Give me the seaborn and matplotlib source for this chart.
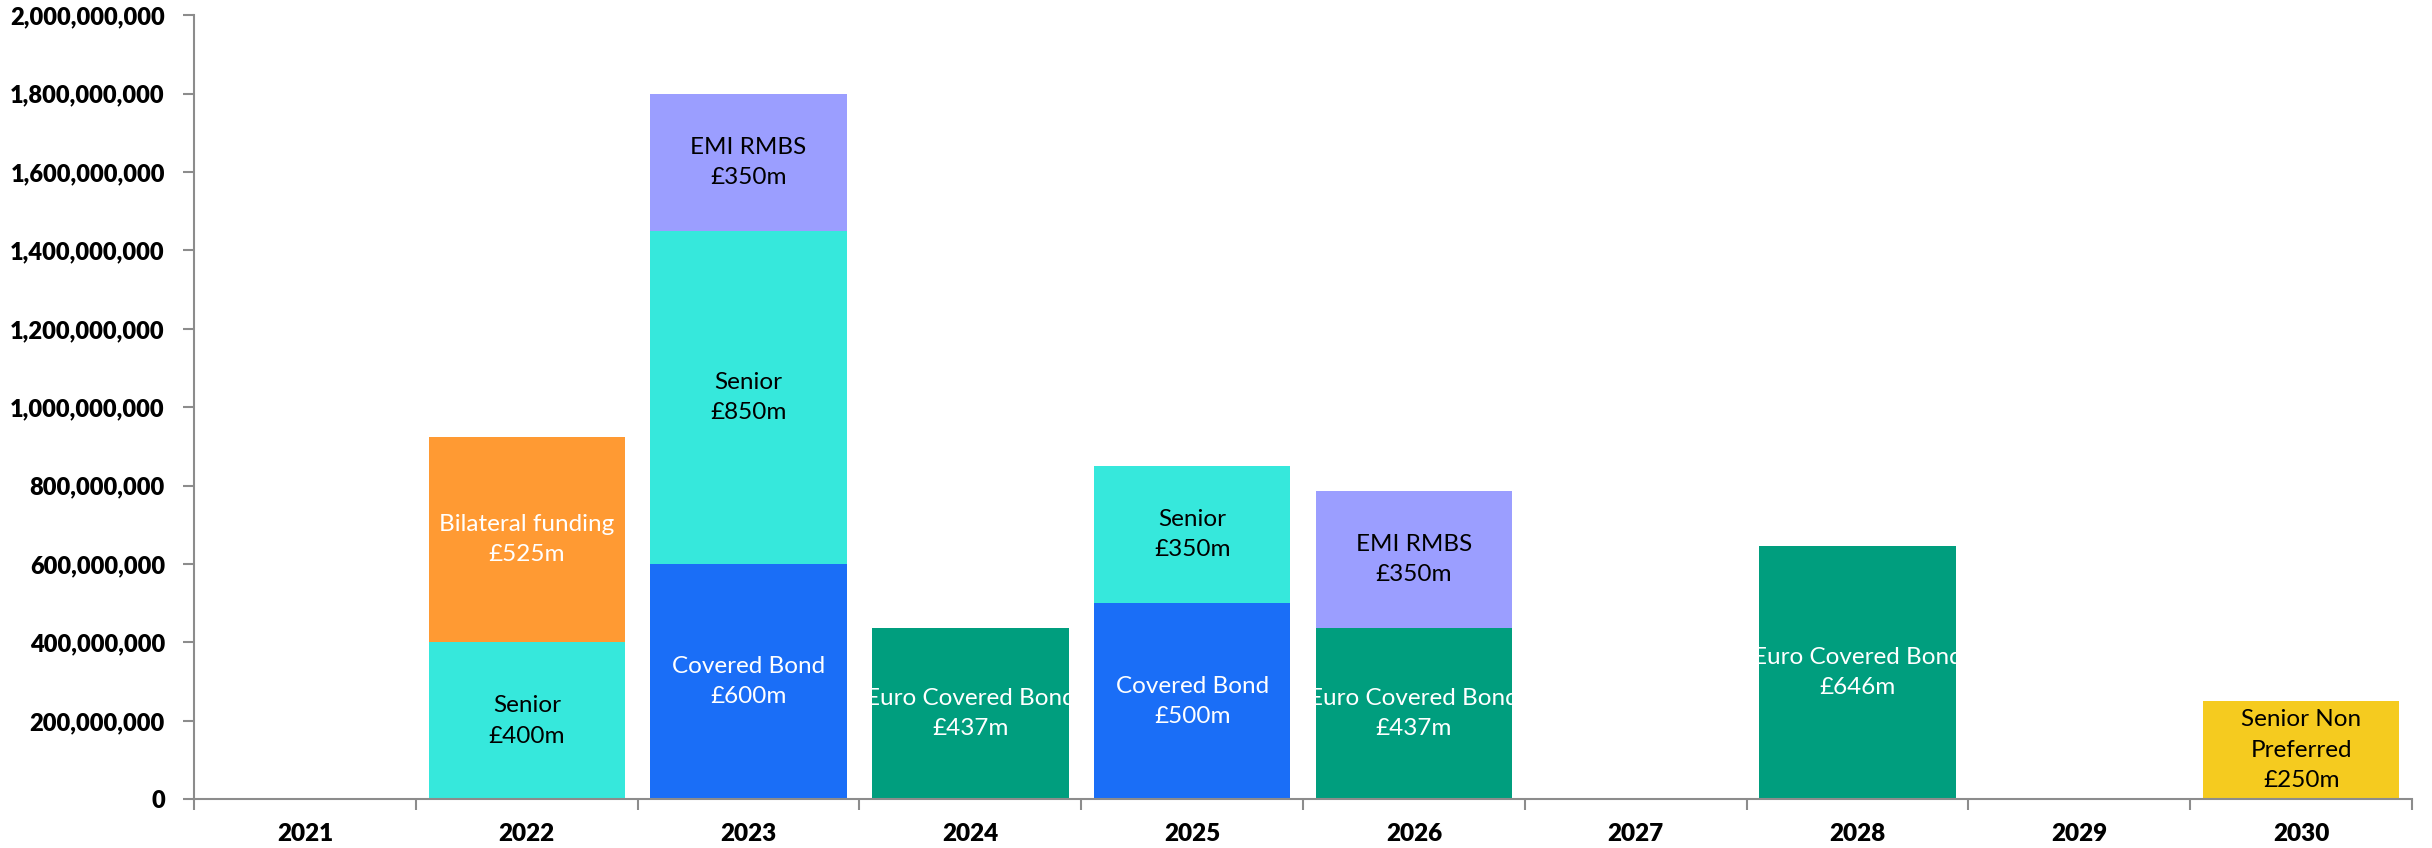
import matplotlib
matplotlib.use("Agg")
import matplotlib.pyplot as plt
import seaborn as sns
import numpy as np
import pandas as pd
from matplotlib.transforms import Bbox, TransformedBbox
from matplotlib.ticker import FuncFormatter, MultipleLocator, FixedLocator

# ---- data ----
years = ["2021", "2022", "2023", "2024", "2025", "2026", "2027", "2028", "2029", "2030"]
# stacking order bottom -> top
types = ["Covered Bond", "Euro Covered Bond", "Senior", "Bilateral funding", "EMI RMBS", "Senior Non Preferred"]
covered_bond = [0, 0, 600, 0, 500, 0, 0, 0, 0, 0]
euro_covered_bond = [0, 0, 0, 437, 0, 437, 0, 646, 0, 0]
senior = [0, 400, 850, 0, 350, 0, 0, 0, 0, 0]
bilateral_funding = [0, 525, 0, 0, 0, 0, 0, 0, 0, 0]
emi_rmbs = [0, 0, 350, 0, 0, 350, 0, 0, 0, 0]
senior_non_preferred = [0, 0, 0, 0, 0, 0, 0, 0, 0, 250]
series_values = [covered_bond, euro_covered_bond, senior, bilateral_funding, emi_rmbs, senior_non_preferred]
segment_names = ["Covered Bond", "Euro Covered Bond", "Senior", "Bilateral funding", "EMI RMBS", "Senior Non\nPreferred"]
colors = ["#1A6EF7", "#009E7E", "#36E8DC", "#FF9A33", "#9B9EFF", "#F5CB1F"]
text_colors = ["white", "white", "black", "white", "black", "black"]

sns.set_theme(style="white")
plt.rcParams["font.family"] = ["Lato", "DejaVu Sans"]

fig = plt.figure(figsize=(24.32, 8.48), dpi=100)
ax = fig.add_axes([0.0798, 0.0575, 0.912, 0.9245])

bw = 0.885
bottom = np.zeros(len(years))
for name, vals, c, tc, lab in zip(types, series_values, colors, text_colors, segment_names):
    vals_abs = np.array(vals, dtype=float) * 1e6
    sns.barplot(x=years, y=vals_abs, order=years, color=c, saturation=1,
                bottom=bottom.copy(), width=bw, errorbar=None, ax=ax, linewidth=0)
    for i, v in enumerate(vals):
        if v > 0:
            y0 = bottom[i]
            y1 = bottom[i] + vals_abs[i]
            t = ax.text(i, (y0 + y1) / 2, f"{lab}\n£{v}m", ha="center", va="center",
                        color=tc, fontsize=17.5, linespacing=1.55)
            t.set_clip_box(TransformedBbox(Bbox([[i - bw / 2, y0], [i + bw / 2, y1]]), ax.transData))
            t.set_clip_on(True)
    bottom = bottom + vals_abs

ax.set_xlim(-0.5, len(years) - 0.5)
ax.set_ylim(0, 2e9)
ax.yaxis.set_major_locator(MultipleLocator(2e8))
ax.yaxis.set_major_formatter(FuncFormatter(lambda v, p: f"{int(round(v)):,}"))
ax.set_xlabel("")
ax.set_ylabel("")

for s in ["top", "right"]:
    ax.spines[s].set_visible(False)
for s in ["left", "bottom"]:
    ax.spines[s].set_color("#8C8C8C")
    ax.spines[s].set_linewidth(1.5)

ax.tick_params(axis="y", which="major", left=True, length=8, width=1.5, color="#8C8C8C",
               pad=13, labelsize=17)
ax.tick_params(axis="x", which="major", bottom=False, length=0, pad=17, labelsize=17.5)
ax.xaxis.set_minor_locator(FixedLocator(np.arange(-0.5, len(years), 1.0)))
ax.tick_params(axis="x", which="minor", bottom=True, length=8, width=1.5, color="#8C8C8C")
for lbl in ax.get_xticklabels() + ax.get_yticklabels():
    lbl.set_fontweight("heavy")
    lbl.set_color("black")

fig.savefig("out.png", dpi=100)
